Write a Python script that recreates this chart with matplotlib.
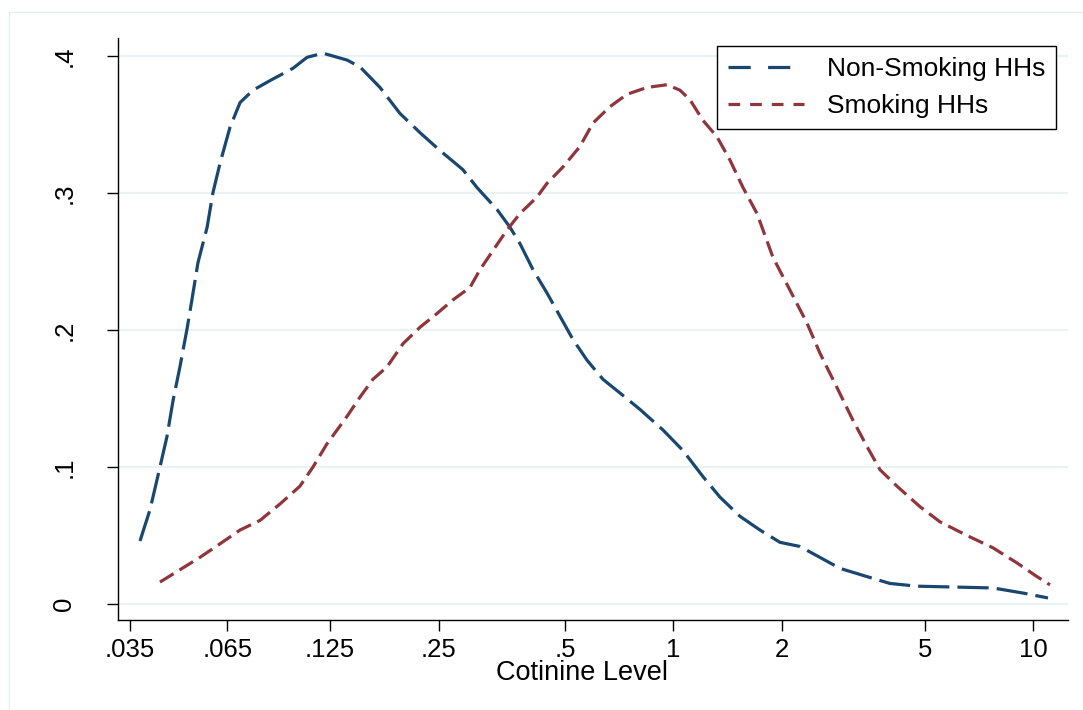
import matplotlib
matplotlib.use("Agg")
import matplotlib.pyplot as plt
from matplotlib.lines import Line2D

plt.rcParams["font.family"] = ["Liberation Sans", "DejaVu Sans"]
plt.rcParams["lines.scale_dashes"] = False

# density of cotinine level
cot_nonsmoking = [0.0330, 0.0352, 0.0375, 0.0392, 0.0408, 0.0426, 0.0446, 0.0460, 0.0478,
                  0.0507, 0.0526, 0.0551, 0.0587, 0.0626, 0.0680, 0.0758, 0.0878, 0.0961,
                  0.1064, 0.1241, 0.1348, 0.1532, 0.1741, 0.1979, 0.2248, 0.2604, 0.2848,
                  0.3237, 0.3518, 0.3751, 0.4077, 0.4458, 0.4845, 0.5265, 0.5757, 0.6377,
                  0.7111, 0.8083, 0.9363, 1.064, 1.209, 1.348, 1.532, 1.741, 1.979, 2.248,
                  2.556, 2.905, 3.452, 3.998, 4.753, 5.983, 7.729, 9.362, 10.99]
dens_nonsmoking = [0.046, 0.069, 0.100, 0.122, 0.149, 0.173, 0.201, 0.222, 0.249,
                   0.275, 0.300, 0.322, 0.348, 0.366, 0.375, 0.382, 0.391, 0.399,
                   0.402, 0.397, 0.392, 0.377, 0.358, 0.344, 0.331, 0.317, 0.304,
                   0.288, 0.275, 0.263, 0.244, 0.227, 0.210, 0.193, 0.178, 0.164,
                   0.154, 0.142, 0.127, 0.112, 0.093, 0.078, 0.064, 0.054, 0.045, 0.042,
                   0.034, 0.026, 0.020, 0.015, 0.013, 0.0124, 0.0117, 0.008, 0.0044]

cot_smoking = [0.0375, 0.0426, 0.0484, 0.0551, 0.0626, 0.0711, 0.0808, 0.0918, 0.0998,
               0.1092, 0.1241, 0.1348, 0.1464, 0.1602, 0.1775, 0.1979, 0.2206, 0.2444,
               0.2724, 0.2904, 0.3156, 0.3452, 0.3751, 0.4182, 0.4458, 0.4939, 0.5506,
               0.5981, 0.6670, 0.7438, 0.8451, 0.9605, 1.0437, 1.1127, 1.209, 1.3225,
               1.437, 1.5618, 1.7084, 1.8919, 2.1101, 2.3522, 2.556, 2.849, 3.157, 3.452,
               3.752, 4.182, 4.846, 5.506, 6.545, 7.729, 9.010, 10.24, 11.13]
dens_smoking = [0.016, 0.025, 0.034, 0.044, 0.054, 0.061, 0.073, 0.086, 0.100,
                0.117, 0.137, 0.151, 0.164, 0.173, 0.190, 0.202, 0.212, 0.222,
                0.231, 0.244, 0.258, 0.273, 0.285, 0.297, 0.307, 0.319, 0.334,
                0.351, 0.363, 0.372, 0.377, 0.379, 0.375, 0.368, 0.353, 0.341,
                0.324, 0.304, 0.285, 0.253, 0.229, 0.205, 0.183, 0.158, 0.134, 0.115,
                0.098, 0.086, 0.071, 0.060, 0.050, 0.041, 0.030, 0.020, 0.014]

xtick_pos = [0.031, 0.0577, 0.1113, 0.2234, 0.5, 1, 2, 5, 10]
xtick_labels = [".035", ".065", ".125", ".25", ".5", "1", "2", "5", "10"]
ytick_pos = [0, 0.1, 0.2, 0.3, 0.4]
ytick_labels = ["0", ".1", ".2", ".3", ".4"]

navy = "#1a476f"
maroon = "#90353b"

fig = plt.figure(figsize=(10.83, 7.10), dpi=100)
ax = fig.add_axes([0.10896, 0.12676, 0.87719, 0.81972])

ax.plot(cot_nonsmoking, dens_nonsmoking, color=navy, lw=2.3, dashes=(22.5, 5.8))
ax.plot(cot_smoking, dens_smoking, color=maroon, lw=2.3, dashes=(11.5, 5.0))

ax.set_xscale("log")
ax.set_xlim(0.02867, 12.49)
ax.set_ylim(-0.01168, 0.4131)
ax.set_xticks(xtick_pos)
ax.set_xticklabels(xtick_labels)
ax.minorticks_off()
ax.set_yticks(ytick_pos)
ax.set_yticklabels(ytick_labels)

ax.grid(axis="y", color="#eaf2f3", lw=1.6)
ax.set_axisbelow(True)
for side in ["top", "right"]:
    ax.spines[side].set_visible(False)
for side in ["left", "bottom"]:
    ax.spines[side].set_color("black")
    ax.spines[side].set_linewidth(1.0)

ax.tick_params(axis="x", length=8, width=1.0, pad=5.0, labelsize=18.5)
ax.tick_params(axis="y", length=8, width=1.0, pad=22, labelsize=18.5, labelrotation=90)
for lab in ax.get_yticklabels():
    lab.set_va("center")

ax.set_xlabel("Cotinine Level", fontsize=19.5, va="top")
ax.xaxis.set_label_coords(0.4884, -0.0685)

handles = [
    Line2D([], [], color=navy, lw=2.3, dashes=(16, 12.5)),
    Line2D([], [], color=maroon, lw=2.3, dashes=(8.4, 7.2)),
]
leg = ax.legend(handles, ["Non-Smoking HHs", "Smoking HHs"],
                loc="upper right", bbox_to_anchor=(1056 / 1083, 1 - 46 / 710),
                bbox_transform=fig.transFigure, borderaxespad=0,
                fontsize=19, fancybox=False, framealpha=1, edgecolor="black",
                handlelength=2.9, handletextpad=0.85, labelspacing=0.49,
                borderpad=0.42)
leg.get_frame().set_linewidth(1.0)

# light outer graph-region border
fig.add_artist(Line2D([9 / 1083, 1], [1 - 12 / 710, 1 - 12 / 710],
                      transform=fig.transFigure, color="#e6edef", lw=1.0))
fig.add_artist(Line2D([9 / 1083, 9 / 1083], [0, 1 - 12 / 710],
                      transform=fig.transFigure, color="#e6edef", lw=1.0))

fig.savefig("out.png", dpi=100)
